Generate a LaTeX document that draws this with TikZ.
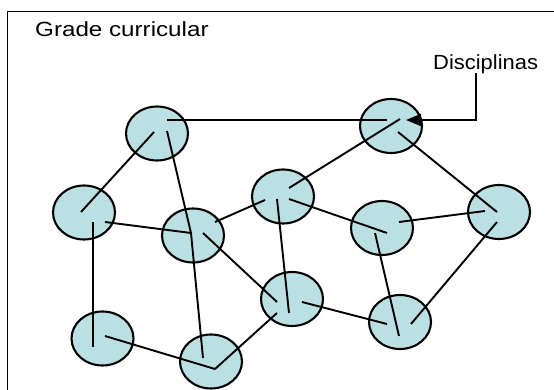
\documentclass[tikz,border=0pt]{standalone}
\usepackage{fontspec}
\setmainfont{Liberation Sans}
\usetikzlibrary{arrows.meta,shapes.geometric}
\definecolor{discfill}{RGB}{187,224,227}
\tikzset{
  disc/.style={ellipse, draw=black, line width=2.1pt, fill=discfill, inner sep=0pt, minimum width=62pt, minimum height=54pt},
  link/.style={draw=black, line width=1.9pt},
  lbl/.style={inner sep=0pt, font=\fontsize{20.5}{23}\selectfont}
}
\begin{document}
\begin{tikzpicture}[x=1pt,y=-1pt]
\useasboundingbox (0,0) rectangle (554,390);
\fill[white] (0,0) rectangle (554,390);
\draw[line width=1.7pt] (7.5,392) -- (7.5,11.5) -- (556,11.5);
\node[lbl, anchor=base west] (title) at (35,36.5) {\scalebox{1.18}[1]{Grade curricular}};
\node[lbl, anchor=base west] (lab) at (433,69.5) {\scalebox{1.07}[1]{Disciplinas}};
\node[disc] (A) at (157,133.5) {};
\node[disc] (B) at (391,126) {};
\node[disc] (C) at (84,212.5) {};
\node[disc] (D) at (193,235.5) {};
\node[disc] (E) at (283,196.5) {};
\node[disc] (F) at (382,228) {};
\node[disc] (G) at (499,212) {};
\node[disc] (H) at (292,299) {};
\node[disc] (I) at (400,322) {};
\node[disc] (J) at (102.5,338.5) {};
\node[disc] (K) at (211,361.5) {};
\draw[link] ([shift={(10,-13.5)}]A.center) -- ([shift={(-4,-6)}]B.center);
\draw[link] ([shift={(-3,-1.5)}]A.center) -- ([shift={(-3,-0.5)}]C.center);
\draw[link] ([shift={(10,-2.5)}]A.center) -- ([shift={(-2,-2.5)}]D.center);
\draw[link] ([shift={(-2,-2.5)}]D.center) -- ([shift={(-8,-3.5)}]K.center);
\draw[link] ([shift={(21,9.5)}]C.center) -- ([shift={(-2,-2.5)}]D.center);
\draw[link] ([shift={(9,9.5)}]C.center) -- ([shift={(-9.5,8.5)}]J.center);
\draw[link] ([shift={(2.5,-2.5)}]J.center) -- ([shift={(4,7.5)}]K.center);
\draw[link] ([shift={(4,7.5)}]K.center) -- ([shift={(-15,14)}]H.center);
\draw[link] ([shift={(22,-13.5)}]D.center) -- ([shift={(-18,3.5)}]E.center);
\draw[link] ([shift={(10,-2.5)}]D.center) -- ([shift={(-15,3)}]H.center);
\draw[link] ([shift={(-6,2.5)}]E.center) -- ([shift={(-3,14)}]H.center);
\draw[link] ([shift={(6,-8.5)}]E.center) -- ([shift={(9,-7)}]B.center);
\draw[link] ([shift={(6,2.5)}]E.center) -- ([shift={(5,5)}]F.center);
\draw[link] ([shift={(7,6)}]B.center) -- ([shift={(-2,0)}]G.center);
\draw[link] ([shift={(-7,5)}]F.center) -- ([shift={(-1,14)}]I.center);
\draw[link] ([shift={(17,-6)}]F.center) -- ([shift={(-14,-1)}]G.center);
\draw[link] ([shift={(-2,10)}]G.center) -- ([shift={(11,2)}]I.center);
\draw[link] ([shift={(10,3)}]H.center) -- ([shift={(-13,2)}]I.center);
\draw[link, -{Triangle[length=15pt,width=12pt]}] ([shift={(43,3.5)}]lab.base west) |- ([shift={(15,-6)}]B.center);
\end{tikzpicture}
\end{document}
